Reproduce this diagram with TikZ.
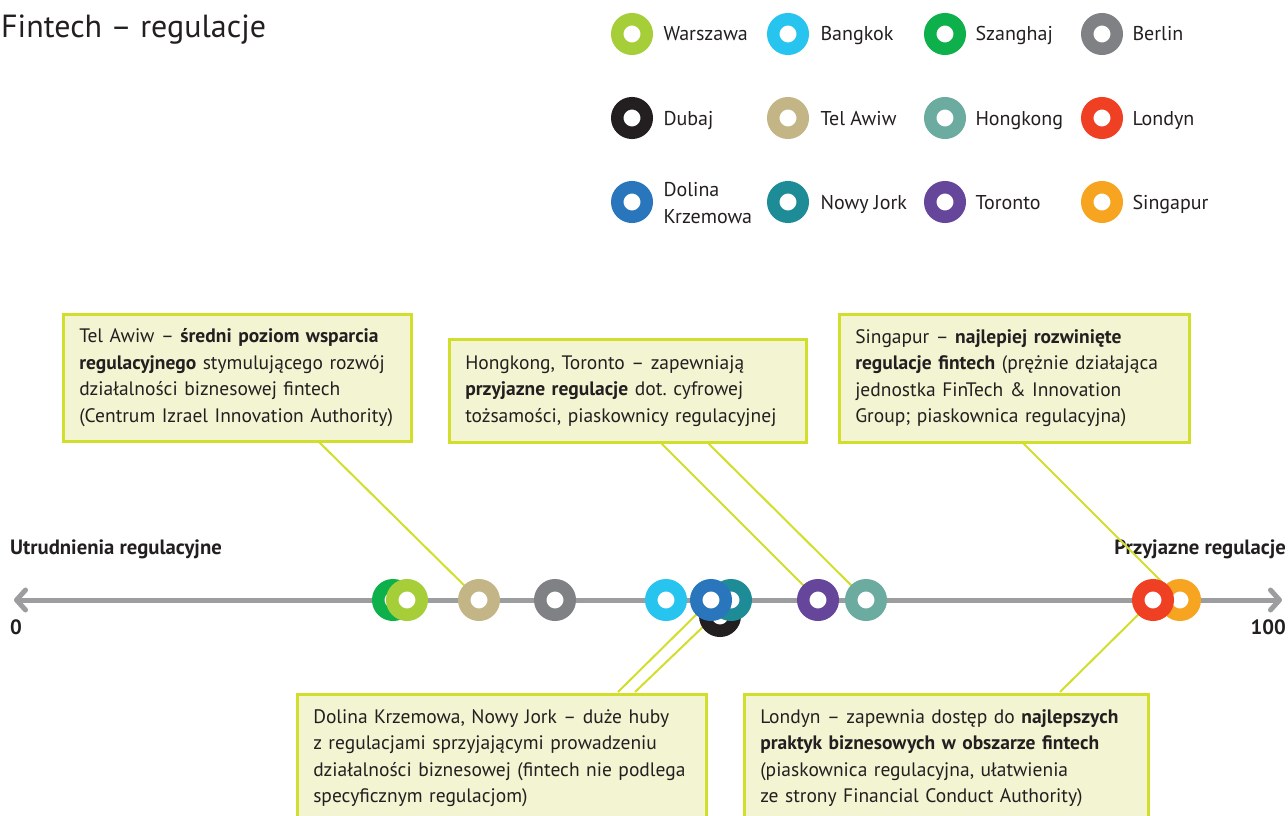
\documentclass[tikz,border=0pt]{standalone}
\usepackage{fontspec}
\setmainfont{PT Sans}
\frenchspacing
\usetikzlibrary{arrows.meta}
\definecolor{ink}{RGB}{35,31,32}
\definecolor{axisgray}{RGB}{155,157,159}
\definecolor{leadgreen}{RGB}{210,222,44}
\definecolor{boxfill}{RGB}{243,244,210}
\definecolor{cwarszawa}{RGB}{166,206,57}
\definecolor{cbangkok}{RGB}{39,196,240}
\definecolor{cszanghaj}{RGB}{13,176,75}
\definecolor{cberlin}{RGB}{128,129,132}
\definecolor{cdubaj}{RGB}{35,31,32}
\definecolor{ctelawiw}{RGB}{196,181,134}
\definecolor{chongkong}{RGB}{107,171,160}
\definecolor{clondyn}{RGB}{239,64,35}
\definecolor{cdolina}{RGB}{42,118,188}
\definecolor{cnowyjork}{RGB}{30,140,150}
\definecolor{ctoronto}{RGB}{101,70,155}
\definecolor{csingapur}{RGB}{247,165,33}
\tikzstyle{marker}=[circle,fill=white,line width=12.5pt,minimum size=29.5pt,inner sep=0pt]
\tikzstyle{legendlabel}=[anchor=base west,text=ink,font=\fontsize{20}{27}\selectfont,align=left]
\tikzstyle{callout}=[draw=leadgreen,fill=boxfill,line width=2.5pt,anchor=north west,align=left,inner xsep=16pt,inner ysep=0pt,text=ink,font=\fontsize{19.5}{26.5}\selectfont]
\tikzstyle{leader}=[leadgreen,line width=2pt]
\tikzstyle{axislabel}=[text=ink,font=\bfseries\fontsize{20.7}{24}\selectfont]
\tikzstyle{axisarrow}=[axisgray,line width=5pt,{Straight Barb[length=9pt,width=20pt,round]}-{Straight Barb[length=9pt,width=20pt,round]}]

\begin{document}
\begin{tikzpicture}[x=1pt,y=-1pt]

\clip (0,0) rectangle (1288,816);

\node[anchor=base west,inner sep=0pt,text=ink,font=\fontsize{32}{38}\selectfont] (title) at (1,38) {Fintech – regulacje};

\node[marker,draw=cwarszawa] (LWAW) at (632,34) {};
\node[marker,draw=cbangkok] (LBKK) at (788,34) {};
\node[marker,draw=cszanghaj] (LSHA) at (945,34) {};
\node[marker,draw=cberlin] (LBER) at (1102,34) {};
\node[marker,draw=cdubaj] (LDXB) at (632,118) {};
\node[marker,draw=ctelawiw] (LTLV) at (788,118) {};
\node[marker,draw=chongkong] (LHKG) at (945,118) {};
\node[marker,draw=clondyn] (LLON) at (1102,118) {};
\node[marker,draw=cdolina] (LSV) at (632,202) {};
\node[marker,draw=cnowyjork] (LNYC) at (788,202) {};
\node[marker,draw=ctoronto] (LTOR) at (945,202) {};
\node[marker,draw=csingapur] (LSIN) at (1102,202) {};

\node[legendlabel] (TWAW) at (660,41) {Warszawa};
\node[legendlabel] (TBKK) at (817,41) {Bangkok};
\node[legendlabel] (TSHA) at (972,41) {Szanghaj};
\node[legendlabel] (TBER) at (1129,41) {Berlin};
\node[legendlabel] (TDXB) at (660,125) {Dubaj};
\node[legendlabel] (TTLV) at (817,125) {Tel Awiw};
\node[legendlabel] (THKG) at (972,125) {Hongkong};
\node[legendlabel] (TLON) at (1129,125) {Londyn};
\node[legendlabel,anchor=west] (TSV) at (660,203) {Dolina\\Krzemowa};
\node[legendlabel] (TNYC) at (817,209) {Nowy Jork};
\node[legendlabel] (TTOR) at (972,209) {Toronto};
\node[legendlabel] (TSIN) at (1129,209) {Singapur};

\node[axislabel,anchor=base west,inner sep=0pt] (lowlabel) at (10,554) {Utrudnienia regulacyjne};
\node[axislabel,anchor=base west,inner sep=0pt] (lowvalue) at (10,634) {0};
\node[axislabel,anchor=base east,inner sep=0pt] (highlabel) at (1286,554) {Przyjazne regulacje};
\node[axislabel,anchor=base east,inner sep=0pt] (highvalue) at (1286,634) {100};

\coordinate (AXLEFT) at (14,600);
\coordinate (AXRIGHT) at (1282,600);
\draw[axisarrow] (AXLEFT) -- (AXRIGHT);

\node[callout,text width=316pt,minimum height=127pt] (telbox) at (62,313) {Tel Awiw – \textbf{średni poziom wsparcia}\\\textbf{regulacyjnego} stymulującego rozwój\\działalności biznesowej fintech\\(Centrum Izrael Innovation Authority)};
\node[callout,text width=325pt,minimum height=103pt] (hkbox) at (448,338) {Hongkong, Toronto – zapewniają\\\textbf{przyjazne regulacje} dot. cyfrowej\\tożsamości, piaskownicy regulacyjnej};
\node[callout,text width=318pt,minimum height=128pt] (sgbox) at (838,313) {Singapur – \textbf{najlepiej rozwinięte}\\\textbf{regulacje fintech} (prężnie działająca\\jednostka FinTech \& Innovation\\Group; piaskownica regulacyjna)};
\node[callout,text width=377pt,minimum height=128pt] (dkbox) at (296,693) {Dolina Krzemowa, Nowy Jork – duże huby\\z regulacjami sprzyjającymi prowadzeniu\\działalności biznesowej (fintech nie podlega\\specyficznym regulacjom)};
\node[callout,text width=372pt,minimum height=128pt] (ldbox) at (743,693) {Londyn – zapewnia dostęp do \textbf{najlepszych}\\\textbf{praktyk biznesowych w obszarze fintech}\\(piaskownica regulacyjna, ułatwienia\\ze strony Financial Conduct Authority)};

\coordinate (TELFOOT) at (318,441);
\coordinate (HKFOOT1) at (660,442);
\coordinate (HKFOOT2) at (707,442);
\coordinate (SGFOOT) at (1022,442);
\coordinate (DKHEAD1) at (618,692);
\coordinate (DKHEAD2) at (635,692);
\coordinate (LDHEAD) at (1060,692);

\draw[leader] (TELFOOT) -- (479,600);
\draw[leader] (HKFOOT1) -- (818,600);
\draw[leader] (HKFOOT2) -- (866,600);
\draw[leader] (SGFOOT) -- (1180,600);
\draw[leader] (DKHEAD1) -- (711,600);
\draw[leader] (DKHEAD2) -- (731,600);
\draw[leader] (LDHEAD) -- (1153,600);

\node[marker,draw=cszanghaj] (SHA) at (393,600) {};
\node[marker,draw=cwarszawa] (WAW) at (407,600) {};
\node[marker,draw=ctelawiw] (TLV) at (479,600) {};
\node[marker,draw=cberlin] (BER) at (555,600) {};
\node[marker,draw=cbangkok] (BKK) at (666,600) {};
\node[marker,draw=cdubaj] (DXB) at (720,616) {};
\node[marker,draw=cnowyjork] (NYC) at (731,600) {};
\node[marker,draw=cdolina] (SV) at (711,600) {};
\node[marker,draw=ctoronto] (TOR) at (818,600) {};
\node[marker,draw=chongkong] (HKG) at (866,600) {};
\node[marker,draw=csingapur] (SIN) at (1180,600) {};
\node[marker,draw=clondyn] (LON) at (1153,600) {};

\end{tikzpicture}
\end{document}
